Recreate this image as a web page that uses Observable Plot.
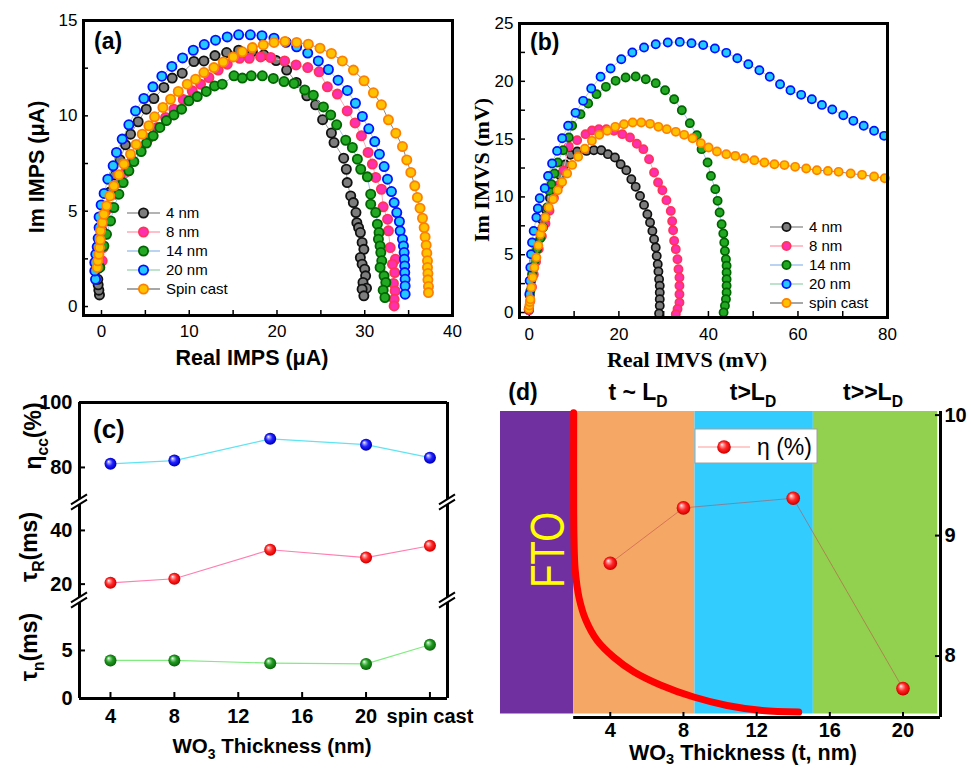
<!DOCTYPE html>
<html><head><meta charset="utf-8">
<script src="https://cdn.jsdelivr.net/npm/d3@7"></script>
<script src="https://cdn.jsdelivr.net/npm/@observablehq/plot@0.6"></script>
<style>
body{margin:0;background:#fff;}
#fig{position:relative;width:971px;height:768px;overflow:hidden;background:#fff;}
</style></head>
<body>
<svg width="0" height="0" style="position:absolute;left:0;top:0">
<defs>
<radialGradient id="gBlue" cx="0.5" cy="0.5" r="0.55" fx="0.33" fy="0.3">
<stop offset="0" stop-color="#ffffff"/><stop offset="0.2" stop-color="#9a9aff"/><stop offset="0.5" stop-color="#2222ff"/><stop offset="0.85" stop-color="#0000c8"/><stop offset="1" stop-color="#000070"/></radialGradient>
<radialGradient id="gRed" cx="0.5" cy="0.5" r="0.55" fx="0.33" fy="0.3">
<stop offset="0" stop-color="#ffffff"/><stop offset="0.2" stop-color="#ff9a9a"/><stop offset="0.5" stop-color="#ff2a2a"/><stop offset="0.85" stop-color="#e00000"/><stop offset="1" stop-color="#8a0000"/></radialGradient>
<radialGradient id="gGreen" cx="0.5" cy="0.5" r="0.55" fx="0.33" fy="0.3">
<stop offset="0" stop-color="#ffffff"/><stop offset="0.2" stop-color="#8ad88a"/><stop offset="0.5" stop-color="#239a23"/><stop offset="0.85" stop-color="#0c700c"/><stop offset="1" stop-color="#003a00"/></radialGradient>
</defs></svg>
<div id="fig"></div>
<script>
// ---------------- DATA ----------------
// (a) IMPS Nyquist: [Real (µA), Im (µA)]
const imps4 = [[-0.23,0.61],[-0.3,0.86],[-0.38,1.14],[-0.42,1.43],[-0.4,2.0],[-0.3,2.9],[0.05,4.0],[0.45,5.0],[0.95,6.0],[1.5,6.9],[2.1,7.7],[2.74,8.48],[3.31,9.04],[4.18,9.69],[5.1,10.35],[5.97,10.91],[7.11,11.49],[8.06,11.98],[9.2,12.24],[10.53,12.85],[11.67,12.88],[12.93,13.16],[14.26,13.32],[15.63,13.44],[17.19,13.37],[18.5,13.2],[19.9,12.9],[21.1,12.4],[22.2,11.75],[23.4,11.05],[24.4,10.58],[25.2,9.8],[26.2,9.1],[26.5,8.6],[27.6,7.78],[27.9,7.2],[28.0,6.5],[28.4,5.8],[28.7,5.45],[29.0,4.93],[29.1,4.4],[29.3,4.14],[29.5,3.88],[29.7,3.36],[29.9,3.0],[29.5,2.57],[29.7,2.22],[30.0,1.96],[30.1,1.61],[29.8,1.26],[30.2,0.96],[29.7,0.91],[29.9,0.56]];
const imps8 = [[0.08,2.4],[0.19,3.09],[0.38,3.79],[0.65,4.49],[1.03,5.19],[1.6,5.89],[2.17,6.5],[2.74,7.03],[3.5,7.64],[4.45,8.34],[5.4,8.83],[6.35,9.39],[7.3,9.91],[8.25,10.35],[9.32,10.86],[10.34,11.31],[11.29,11.66],[12.24,12.01],[13.3,12.4],[14.33,12.71],[15.74,13.02],[16.84,13.02],[18.14,13.09],[19.28,13.06],[20.87,12.88],[22.17,12.67],[23.5,12.53],[24.8,12.31],[25.74,11.52],[26.88,11.14],[28.0,10.26],[28.9,9.63],[29.62,8.95],[30.38,8.08],[30.87,7.47],[31.25,6.77],[31.9,6.15],[32.1,5.23],[32.6,4.58],[32.7,3.97],[32.9,3.09],[33.5,2.48],[33.16,2.22],[33.42,1.78],[33.27,1.21],[33.46,0.82],[33.35,0.38],[33.35,0.03]];
const imps14 = [[-0.19,2.05],[0.27,3.18],[0.57,3.79],[1.03,4.49],[1.41,5.19],[1.98,5.89],[2.47,6.5],[3.12,7.12],[3.69,7.6],[4.52,8.13],[5.13,8.57],[5.89,8.95],[6.65,9.39],[7.4,9.75],[8.25,10.05],[9.13,10.35],[9.96,10.79],[10.91,11.01],[11.94,11.28],[12.89,11.57],[13.76,11.66],[15.1,12.1],[16.05,11.98],[17.07,12.1],[18.33,12.1],[19.58,11.96],[20.8,11.8],[21.94,11.7],[23.16,11.36],[24.14,11.08],[25.29,10.47],[26.12,10.05],[26.8,9.53],[27.83,8.72],[28.59,8.34],[29.16,7.73],[29.54,7.2],[30.3,6.8],[30.68,5.89],[30.68,5.37],[31.25,4.93],[31.44,4.32],[31.63,3.88],[31.56,3.53],[31.75,3.18],[31.83,2.83],[31.94,2.4],[31.75,2.05],[32.2,1.61],[32.4,1.26],[32.1,0.86],[32.3,0.47]];
const imps20 = [[-0.68,1.43],[-0.76,1.87],[-0.76,2.31],[-0.65,2.74],[-0.49,3.13],[-0.38,3.58],[-0.27,4.14],[-0.27,4.7],[-0.04,5.33],[0.3,5.93],[0.72,6.68],[1.33,7.38],[1.71,8.08],[2.36,8.78],[3.12,9.53],[3.88,10.26],[4.83,10.91],[5.86,11.52],[6.88,12.08],[8.02,12.59],[9.24,13.04],[10.46,13.44],[11.71,13.74],[13.0,13.97],[14.33,14.14],[15.63,14.25],[16.96,14.25],[18.29,14.2],[19.66,14.07],[21.03,13.86],[22.24,13.62],[23.5,13.29],[24.71,12.88],[25.86,12.43],[26.96,11.87],[28.02,11.33],[28.94,10.66],[29.73,9.97],[30.46,9.32],[31.14,8.65],[31.67,7.99],[32.21,7.34],[32.59,6.68],[33.04,6.03],[33.35,5.45],[33.65,4.93],[33.95,4.46],[34.03,3.97],[34.3,3.53],[34.41,3.18],[34.49,2.83],[34.52,2.48],[34.56,2.13],[34.56,1.78],[34.6,1.43],[34.6,1.08],[34.6,0.65]];
const impsSpin = [[-0.49,2.05],[-0.42,2.4],[-0.3,2.74],[-0.23,3.09],[-0.15,3.5],[-0.11,3.97],[0.1,4.4],[0.27,4.84],[0.57,5.28],[0.95,5.8],[1.41,6.33],[1.98,6.91],[2.55,7.47],[3.31,7.99],[3.95,8.5],[4.64,9.04],[5.4,9.48],[6.05,9.95],[7.0,10.44],[7.87,10.87],[8.75,11.28],[9.77,11.66],[10.72,11.92],[11.67,12.27],[12.81,12.53],[13.88,12.83],[15.02,13.09],[16.05,13.36],[17.19,13.58],[18.44,13.72],[19.66,13.85],[20.91,13.9],[22.24,13.85],[23.57,13.76],[24.9,13.55],[26.2,13.27],[27.45,12.88],[28.71,12.4],[29.92,11.84],[30.99,11.21],[31.9,10.58],[32.7,9.79],[33.54,9.09],[34.3,8.39],[34.79,7.69],[35.25,7.03],[35.7,6.33],[36.0,5.72],[36.3,5.16],[36.58,4.63],[36.77,4.14],[36.88,3.65],[37.0,3.22],[37.07,2.8],[37.15,2.4],[37.15,2.05],[37.2,1.73],[37.2,1.4],[37.26,1.05],[37.26,0.73]];

// (b) IMVS Nyquist: [Real (mV), Im (mV)]
const imvs4 = [[-0.1,0.2],[0.1,1.5],[0.35,2.7],[0.7,3.9],[1.1,5.0],[1.6,6.0],[2.2,7.0],[2.9,8.0],[3.7,8.9],[4.6,9.9],[5.6,10.9],[6.8,11.9],[8.0,12.8],[9.19,13.64],[10.68,13.93],[12.77,13.98],[14.41,14.04],[16.06,14.04],[17.55,13.7],[19.12,13.41],[20.39,12.83],[21.66,12.31],[22.78,11.53],[23.75,10.87],[24.72,10.09],[25.62,9.31],[26.36,8.51],[26.96,7.79],[27.48,7.06],[27.86,6.34],[28.23,5.62],[28.45,4.9],[28.68,4.18],[28.83,3.55],[28.98,2.88],[29.13,2.31],[29.13,1.73],[29.13,1.15],[29.13,0.58],[28.98,-0.09]];
const imvs8 = [[-0.1,0.2],[0.22,1.0],[0.6,2.2],[1.0,3.3],[1.5,4.4],[2.1,5.5],[2.8,6.6],[3.6,7.7],[4.5,8.8],[5.5,9.9],[6.6,11.0],[7.6,12.3],[8.81,14.36],[10.68,14.91],[12.55,15.43],[14.0,15.75],[15.53,15.86],[17.2,15.85],[18.9,15.72],[20.76,15.43],[22.48,15.14],[24.0,14.6],[25.47,14.13],[26.74,13.26],[27.86,12.11],[28.75,11.25],[29.72,10.58],[30.62,9.72],[31.59,8.79],[31.9,7.9],[32.11,7.12],[32.34,6.2],[32.71,5.48],[33.08,4.61],[33.31,3.75],[33.53,3.03],[33.53,2.31],[33.53,1.59],[33.53,0.87],[33.1,0.3],[32.71,-0.14]];
const imvs14 = [[-0.1,0.3],[0.22,1.87],[0.6,3.32],[1.12,4.47],[1.72,5.48],[2.46,6.43],[3.06,7.35],[3.58,8.22],[3.96,9.08],[4.48,10.52],[4.93,11.1],[5.6,12.02],[6.35,12.98],[7.54,14.04],[8.81,15.14],[9.56,16.15],[11.43,17.16],[13.14,18.08],[15.01,18.89],[17.1,19.52],[19.27,20.04],[21.51,20.33],[23.75,20.42],[26.0,20.18],[28.23,19.84],[30.32,19.23],[32.34,18.45],[34.06,17.5],[35.85,16.38],[37.42,15.34],[38.47,14.13],[39.81,12.98],[40.56,11.82],[41.53,10.67],[42.05,9.66],[42.5,8.65],[42.95,7.64],[43.32,6.83],[43.54,6.06],[43.69,5.33],[43.91,4.61],[44.06,4.04],[44.06,3.46],[44.06,2.88],[44.06,2.31],[44.06,1.73],[43.91,1.15],[43.69,0.58],[43.39,0.0]];
const imvs20 = [[-0.15,0.29],[0.0,1.59],[0.07,2.74],[0.22,3.89],[0.37,5.05],[0.6,6.06],[0.97,7.06],[1.57,8.22],[1.9,9.0],[2.32,9.89],[3.44,10.76],[4.18,11.82],[5.08,12.89],[6.2,13.98],[7.32,15.08],[8.66,16.15],[10.31,17.27],[12.02,18.31],[13.82,19.38],[15.91,20.39],[18.15,21.11],[20.54,21.91],[23.0,22.49],[25.62,22.92],[28.23,23.21],[30.92,23.36],[33.6,23.41],[36.22,23.3],[38.83,23.13],[41.45,22.84],[43.99,22.46],[46.45,22.0],[48.91,21.48],[51.38,20.96],[53.7,20.39],[56.0,19.75],[58.33,19.23],[60.72,18.83],[63.1,18.45],[65.35,17.96],[67.66,17.56],[70.13,17.07],[72.37,16.58],[74.68,16.15],[77.0,15.72],[79.24,15.28]];
const imvsSpin = [[-0.1,0.3],[0.0,0.6],[0.1,0.9],[0.22,1.15],[0.45,2.16],[0.75,3.03],[1.12,3.89],[1.57,4.76],[2.0,5.8],[2.46,6.78],[2.91,7.35],[3.58,8.22],[4.33,9.08],[5.3,9.8],[6.35,10.58],[7.32,11.3],[8.44,12.02],[9.56,12.77],[10.9,13.47],[12.4,14.16],[13.97,14.85],[15.61,15.37],[17.4,15.72],[19.19,16.06],[21.13,16.29],[23.08,16.44],[25.0,16.44],[26.96,16.32],[28.83,16.06],[30.7,15.86],[32.71,15.63],[34.58,15.37],[36.45,15.08],[38.31,14.65],[40.03,14.27],[41.9,13.93],[43.99,13.7],[46.0,13.55],[48.02,13.35],[50.26,13.18],[52.5,12.98],[54.74,12.83],[56.98,12.75],[59.37,12.6],[61.84,12.46],[64.23,12.31],[66.69,12.25],[69.08,12.17],[71.77,12.02],[74.31,11.91],[77.0,11.76],[79.39,11.62]];

const seriesLabelsA = ["4 nm","8 nm","14 nm","20 nm","Spin cast"];
const seriesLabelsB = ["4 nm","8 nm","14 nm","20 nm","spin cast"];
const xTicksA = [0,10,20,30,40], yTicksA = [0,5,10,15];
const xMinorA = [0,5,10,15,20,25,30,35], yMinorA = [0,2.5,5,7.5,10,12.5];
const xTicksB = [0,20,40,60,80], yTicksB = [0,5,10,15,20,25];
const xMinorB = [0,10,20,30,40,50,60,70], yMinorB = [0,2.5,5,7.5,10,12.5,15,17.5,20,22.5];

// (c) parameters vs thickness ("spin cast" sits at position 24)
const thickC = [4, 8, 14, 20, 24];
const etaCC = [81.1, 82.1, 88.8, 87.0, 83.0];
const tauR = [20.5, 22.0, 32.8, 29.9, 34.3];
const tauN = [3.96, 3.96, 3.68, 3.6, 5.59];
const xTicksC = [4, 8, 12, 16, 20, 24];
const xTickLabelsC = ["4", "8", "12", "16", "20", "spin cast"];

// (d) efficiency vs thickness + schematic
const thickD = [4, 8, 14, 20];
const etaD = [8.77, 9.23, 9.31, 7.73];
const bandStart = [-2, 2, 8.63, 15.1];
const bandEnd = [2, 8.63, 15.1, 21.9];
const bandColors = ["#7030a0", "#f5a865", "#33ccff", "#92d050"];
const profileT = [2.0, 2.0, 2.02, 2.08, 2.3, 2.66, 3.28, 4.19, 5.28, 6.74, 8.56, 10.38, 12.2, 14.3];
const profileV = [10.02, 9.2, 8.95, 8.72, 8.48, 8.30, 8.13, 7.99, 7.87, 7.76, 7.66, 7.59, 7.55, 7.535];
const xTicksD = [4, 8, 12, 16, 20], yTicksD = [8, 9, 10];
const regionTitles = ["t ~ L", "t>L", "t>>L"];

// ---------------- STYLES ----------------
const SANS = "'Liberation Sans', Arial, Helvetica, sans-serif";
const SERIF = "'Liberation Serif', 'Times New Roman', serif";
const dotStyles = [
  {stroke:"#111111", fill:"#7d7d7d"},
  {stroke:"#ff3355", fill:"#ff30b0"},
  {stroke:"#006400", fill:"#22a822"},
  {stroke:"#0010ff", fill:"#22c8ff"},
  {stroke:"#ff8000", fill:"#ffc200"}
];
const lineColorsA = ["#9a9a9a", "#ffa8b8", "#a4c4ee", "#a8d8b8", "#8a8a8a"];

const fig = document.getElementById("fig");
const X = d => d[0], Y = d => d[1];
function st(size, weight) {
  return {fontFamily: SANS, fontSize: size + "px", fontWeight: weight, background: "transparent", overflow: "visible", color: "#000"};
}
function put(el, left, top) {
  Object.assign(el.style, {position: "absolute", left: left + "px", top: top + "px", background: "transparent", overflow: "visible", maxWidth: "none"});
  fig.appendChild(el);
}

// ---------------- PANEL (a) ----------------
const seriesA = [imps4, imps8, imps14, imps20, impsSpin];
put(Plot.plot({
  width: 480, height: 370, marginLeft: 83, marginRight: 28, marginTop: 20, marginBottom: 55,
  x: {domain: [-2.05, 40]}, y: {domain: [-0.47, 15]},
  style: st(17, "normal"),
  marks: [
    Plot.tickX(xMinorA, {x: d => d, insetTop: 290, stroke: "#000", strokeWidth: 1.5}),
    Plot.tickY(yMinorA, {y: d => d, insetRight: 364, stroke: "#000", strokeWidth: 1.5}),
    ...seriesA.flatMap((data, i) => [
      Plot.line(data, {x: X, y: Y, stroke: lineColorsA[i], strokeWidth: 1}),
      Plot.dot(data, {x: X, y: Y, r: 4.6, stroke: dotStyles[i].stroke, strokeWidth: 1.8, fill: dotStyles[i].fill})
    ]),
    Plot.axisX({ticks: xTicksA, tickSize: 0, tickPadding: 9, label: null}),
    Plot.axisY({ticks: yTicksA, tickSize: 0, tickPadding: 6, label: null}),
    Plot.frame({stroke: "#000", strokeWidth: 3})
  ]
}), 0, 0);

// ---------------- PANEL (b) ----------------
const seriesB = [imvs4, imvs8, imvs14, imvs20, imvsSpin];
put(Plot.plot({
  width: 491, height: 370, marginLeft: 39, marginRight: 84, marginTop: 23, marginBottom: 53,
  x: {domain: [-2.2, 80]}, y: {domain: [-0.43, 25]},
  style: st(17, "normal"),
  marks: [
    Plot.tickX(xMinorB, {x: d => d, insetTop: 288, stroke: "#000", strokeWidth: 1.5}),
    Plot.tickY(yMinorB, {y: d => d, insetRight: 362, stroke: "#000", strokeWidth: 1.5}),
    ...seriesB.flatMap((data, i) => [
      Plot.line(data, {x: X, y: Y, stroke: lineColorsA[i], strokeWidth: 1}),
      Plot.dot(data, {x: X, y: Y, r: 4.1, stroke: dotStyles[i].stroke, strokeWidth: 1.7, fill: dotStyles[i].fill})
    ]),
    Plot.axisX({ticks: xTicksB, tickSize: 0, tickPadding: 10, label: null}),
    Plot.axisY({ticks: yTicksB, tickSize: 0, tickPadding: 6, label: null}),
    Plot.frame({stroke: "#000", strokeWidth: 3})
  ]
}), 480, 0);

// ---------------- PANEL (c) ----------------
const xDomC = [2.06, 25.1];
function panelC({values, yDomain, yTicks, lineColor, grad, top, height, mt, mb, bottomAxis, topEdge, bottomEdge}) {
  const data = thickC.map((t, i) => ({t, v: values[i]}));
  const frameH = height - mt - mb;
  const marks = [
    Plot.tickY(yTicks, {y: d => d, insetRight: 362, stroke: "#000", strokeWidth: 2}),
    Plot.line(data, {x: "t", y: "v", stroke: lineColor, strokeWidth: 1.2}),
    Plot.dot(data, {x: "t", y: "v", r: 6, fill: `url(#${grad})`}),
    Plot.axisY({ticks: yTicks, tickSize: 0, tickPadding: 7, label: null}),
    Plot.ruleX(xDomC, {stroke: "#000", strokeWidth: 3})
  ];
  if (topEdge) marks.push(Plot.ruleY([yDomain[1]], {stroke: "#000", strokeWidth: 3}));
  if (bottomEdge) marks.push(Plot.ruleY([yDomain[0]], {stroke: "#000", strokeWidth: 3}));
  if (bottomAxis) {
    marks.unshift(Plot.tickX(xTicksC, {x: d => d, insetTop: frameH - 6, stroke: "#000", strokeWidth: 2}));
    marks.push(Plot.axisX({ticks: xTicksC, tickFormat: d => xTickLabelsC[xTicksC.indexOf(d)], tickSize: 0, tickPadding: 10, label: null}));
  }
  put(Plot.plot({
    width: 490, height, marginLeft: 79, marginRight: 43, marginTop: mt, marginBottom: mb,
    x: {domain: xDomC, axis: bottomAxis ? undefined : null},
    y: {domain: yDomain},
    style: st(20, "bold"),
    marks
  }), 0, top);
}
panelC({values: etaCC, yDomain: [69.2, 100], yTicks: [80, 100], lineColor: "#5fe4f2", grad: "gBlue", top: 380, height: 122, mt: 22, mb: 0, topEdge: true});
panelC({values: tauR, yDomain: [13.9, 50.4], yTicks: [20, 40], lineColor: "#ff7fb0", grad: "gRed", top: 502, height: 98, mt: 0, mb: 0});
panelC({values: tauN, yDomain: [0, 10.2], yTicks: [0, 5], lineColor: "#80ec80", grad: "gGreen", top: 600, height: 168, mt: 0, mb: 70, bottomAxis: true, bottomEdge: true});

// ---------------- PANEL (d) ----------------
const xDomD = [-2, 22.05], yDomD = [7.49, 10.03];
const bands = bandStart.map((s, i) => ({s, e: bandEnd[i], c: bandColors[i]}));
const profile = profileT.map((t, i) => ({t, v: profileV[i]}));
const etaPts = thickD.map((t, i) => ({t, v: etaD[i]}));
put(Plot.plot({
  width: 481, height: 398, marginLeft: 10, marginRight: 31, marginTop: 41, marginBottom: 51,
  x: {domain: xDomD}, y: {domain: yDomD},
  style: st(20, "bold"),
  marks: [
    Plot.rect(bands, {x1: "s", x2: "e", fill: "c", insetBottom: 3.5}),
    Plot.line(profile, {x: "t", y: "v", stroke: "#ff0000", strokeWidth: 7, curve: "catmull-rom"}),
    Plot.line(etaPts, {x: "t", y: "v", stroke: "#c04848", strokeOpacity: 0.55, strokeWidth: 1}),
    Plot.dot(etaPts, {x: "t", y: "v", r: 6.8, fill: "url(#gRed)"}),
    Plot.tickX(xTicksD, {x: d => d, insetTop: 301, stroke: "#000", strokeWidth: 2}),
    Plot.tickY(yTicksD, {y: d => d, insetLeft: 435, stroke: "#000", strokeWidth: 2}),
    Plot.ruleY([yDomD[0]], {x1: bandStart[1], x2: xDomD[1], stroke: "#000", strokeWidth: 3}),
    Plot.ruleX([xDomD[1]], {stroke: "#000", strokeWidth: 3}),
    Plot.axisX({ticks: xTicksD, tickSize: 0, tickPadding: 5, label: null}),
    Plot.axisY({ticks: yTicksD, tickFormat: d => String(d), anchor: "right", tickSize: 0, tickPadding: 4, label: null})
  ]
}), 490, 370);

// ---------------- OVERLAY (labels, legends, breaks) ----------------
const ov = d3.select(fig).append("svg")
  .attr("width", 971).attr("height", 768)
  .style("position", "absolute").style("left", "0px").style("top", "0px").style("pointer-events", "none");

function label(x, y, parts, o = {}) {
  const size = o.size || 20;
  const shift = size * (o.subShift || 0.3);
  const t = ov.append("text")
    .attr("transform", `translate(${x},${y})` + (o.rotate ? ` rotate(${o.rotate})` : "") + (o.scale ? ` scale(${o.scale})` : ""))
    .attr("text-anchor", o.anchor || "middle")
    .attr("font-family", o.family || SANS)
    .attr("font-size", size)
    .attr("font-weight", o.weight || "bold")
    .attr("fill", o.fill || "#000");
  let shifted = false;
  for (const p of parts) {
    const sub = Array.isArray(p);
    const ts = t.append("tspan").text(sub ? p[0] : p);
    if (sub) { ts.attr("font-size", size * 0.68).attr("dy", shift); shifted = true; }
    else if (shifted) { ts.attr("dy", -shift); shifted = false; }
  }
  return t;
}

function legend(x0, rows, labels, size, r) {
  rows.forEach((y, i) => {
    ov.append("line").attr("x1", x0).attr("x2", x0 + 33).attr("y1", y).attr("y2", y)
      .attr("stroke", lineColorsA[i]).attr("stroke-width", 1.5);
    ov.append("circle").attr("cx", x0 + 16.5).attr("cy", y).attr("r", r)
      .attr("fill", dotStyles[i].fill).attr("stroke", dotStyles[i].stroke).attr("stroke-width", 1.8);
    label(x0 + 39, y + size * 0.36, [labels[i]], {size, weight: "normal", anchor: "start"});
  });
}

// panel (a)
label(94, 49, ["(a)"], {size: 23, anchor: "start"});
label(252, 365, ["Real IMPS (μA)"], {size: 21.5});
label(44, 167, ["Im IMPS (μA)"], {size: 21.5, rotate: -90});
legend(127, [213, 232, 251, 270, 289], seriesLabelsA, 15, 4.6);

// panel (b)
label(530, 50, ["(b)"], {size: 23, anchor: "start"});
label(687, 367, ["Real IMVS (mV)"], {size: 22, family: SERIF});
label(489, 170, ["Im IMVS (mV)"], {size: 22, family: SERIF, rotate: -90});
legend(770, [227, 246, 265, 284, 303], seriesLabelsB, 15, 4.1);

// panel (c)
label(93, 438, ["(c)"], {size: 26, anchor: "start"});
label(41, 436, ["η", ["cc"], "(%)"], {size: 23, rotate: -90});
label(37, 547, ["τ", ["R"], "(ms)"], {size: 23, rotate: -90});
label(37, 647, ["τ", ["n"], "(ms)"], {size: 23, rotate: -90});
label(272, 753, ["WO", ["3"], " Thickness (nm)"], {size: 20.5});
// axis breaks
for (const bx of [79, 447]) for (const by of [502, 600]) {
  ov.append("line").attr("x1", bx - 8).attr("y1", by + 5).attr("x2", bx + 8).attr("y2", by - 5)
    .attr("stroke", "#fff").attr("stroke-width", 4);
  for (const off of [-2.6, 2.6]) {
    ov.append("line").attr("x1", bx - 8).attr("y1", by + 5 + off).attr("x2", bx + 8).attr("y2", by - 5 + off)
      .attr("stroke", "#000").attr("stroke-width", 2);
  }
}

// panel (d)
label(523, 400, ["(d)"], {size: 23});
label(638, 400, [regionTitles[0], ["D"]], {size: 23});
label(753, 400, [regionTitles[1], ["D"]], {size: 23});
label(873, 400, [regionTitles[2], ["D"]], {size: 23});
label(743, 760, ["WO", ["3"], " Thickness (t, nm)"], {size: 21.5, subShift: 0.2});
label(564, 550, ["FTO"], {size: 40, weight: "normal", rotate: -90, scale: "0.96,1.2", fill: "#ffff00"});
ov.append("rect").attr("x", 695).attr("y", 429).attr("width", 122).attr("height", 34)
  .attr("fill", "#fff").attr("stroke", "#a0a0a0").attr("stroke-width", 1);
ov.append("line").attr("x1", 698).attr("x2", 750).attr("y1", 447).attr("y2", 447).attr("stroke", "#ff9a9a").attr("stroke-width", 1.2);
ov.append("circle").attr("cx", 724).attr("cy", 447).attr("r", 6.8).attr("fill", "url(#gRed)");
label(757, 455, ["η (%)"], {size: 23, weight: "normal", anchor: "start"});
</script>
</body></html>
